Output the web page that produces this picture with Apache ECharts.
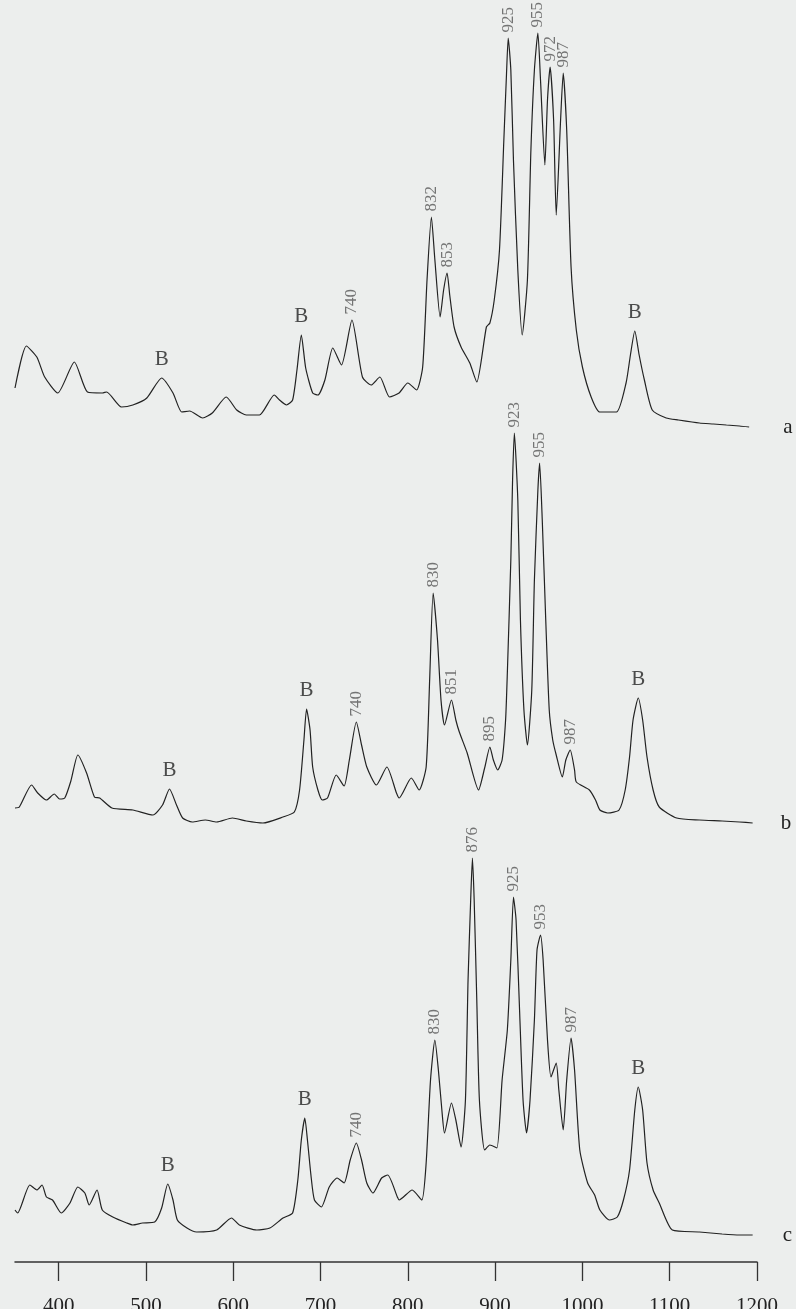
<!DOCTYPE html>
<html>
<head>
<meta charset="utf-8">
<script src="https://cdn.jsdelivr.net/npm/echarts@6/dist/echarts.min.js"></script>
<style>
  html, body { margin: 0; padding: 0; background: #eceeed; }
  #chart { width: 796px; height: 1309px; }
</style>
</head>
<body>
<div id="chart"></div>
<script>
// wavenumber (cm-1), relative intensity
var spectrumA = [[350,42],[363,84],[375,73],[384,53],[399,37],[418,68],[433,38],[450,37],[455,38],[472,23],[485,25],[501,32],[518,52],[531,37],[541,18],[550,19],[565,12],[576,17],[592,33],[604,20],[615,15],[630,15],[647,35],[653,30],[661,25],[668,30],[673,60],[678,95],[683,62],[691,37],[697,35],[705,50],[714,82],[724,65],[736,110],[748,53],[758,45],[768,53],[779,33],[790,37],[800,47],[810,40],[817,63],[822,150],[827,213],[831,170],[837,113],[841,140],[845,157],[848,135],[853,103],[861,83],[871,67],[879,48],[890,103],[894,107],[899,130],[905,180],[910,290],[913,355],[915,392],[918,360],[921,270],[926,160],[931,95],[937,150],[941,280],[945,360],[949,397],[952,350],[957,265],[960,330],[963,363],[967,310],[970,215],[975,310],[978,357],[982,300],[987,163],[993,100],[1000,63],[1010,33],[1020,18],[1039,18],[1050,47],[1055,75],[1060,99],[1065,75],[1071,50],[1080,20],[1096,12],[1110,10],[1134,7],[1150,6],[1165,5],[1180,4],[1191,3]];

var spectrumB = [[350,18],[355,19],[369,41],[376,33],[386,26],[395,32],[401,27],[407,28],[414,45],[422,71],[432,53],[441,29],[447,28],[461,18],[485,16],[508,11],[519,21],[527,37],[535,21],[542,8],[553,4],[568,6],[581,4],[599,8],[615,5],[634,3],[657,9],[670,14],[676,36],[681,86],[684,117],[688,96],[691,59],[697,36],[702,26],[708,28],[718,51],[727,40],[733,66],[741,104],[747,81],[753,59],[764,41],[776,59],[787,33],[790,28],[804,48],[813,36],[821,59],[825,146],[829,233],[834,186],[838,126],[842,101],[850,126],[855,106],[859,94],[868,73],[881,36],[888,58],[894,79],[898,66],[903,56],[908,66],[912,106],[914,153],[918,266],[920,346],[922,393],[926,326],[929,206],[933,116],[937,81],[942,136],[945,246],[949,336],[951,363],[954,306],[958,206],[962,116],[966,86],[970,71],[977,49],[981,66],[986,76],[991,56],[993,44],[1008,36],[1015,26],[1020,16],[1029,13],[1042,16],[1049,36],[1054,69],[1058,106],[1064,128],[1069,106],[1074,69],[1081,36],[1088,19],[1108,8],[1134,6],[1160,5],[1180,4],[1195,3]];

var spectrumC = [[350,30],[353,27],[367,55],[375,50],[381,55],[386,43],[393,40],[403,27],[413,37],[422,53],[430,47],[435,35],[444,50],[450,30],[462,23],[478,17],[485,15],[496,17],[510,18],[518,32],[525,56],[531,40],[536,20],[547,12],[558,8],[581,10],[598,22],[607,15],[627,10],[642,12],[657,22],[668,27],[674,60],[678,100],[682,122],[685,100],[689,65],[693,40],[701,33],[710,53],[719,62],[727,57],[734,80],[741,97],[747,80],[753,57],[760,47],[770,62],[777,65],[788,43],[790,40],[805,50],[816,40],[821,77],[826,160],[831,200],[835,170],[839,130],[842,107],[850,137],[855,120],[861,93],[866,140],[869,260],[872,340],[874,382],[876,340],[879,240],[882,140],[888,90],[894,95],[902,92],[908,160],[914,210],[918,280],[921,343],[924,320],[928,230],[932,140],[936,107],[940,140],[945,220],[948,290],[952,305],[955,280],[960,200],[964,163],[970,177],[973,150],[978,110],[982,160],[987,202],[991,170],[997,90],[1006,57],[1014,45],[1020,30],[1031,20],[1040,23],[1047,40],[1054,70],[1060,130],[1064,153],[1069,130],[1074,77],[1081,50],[1088,37],[1103,10],[1134,8],[1160,6],[1180,5],[1195,5]];

// peak annotations: [wavenumber, intensity, text]
var peaksA = [[736,110,'740'],[827,213,'832'],[845,157,'853'],[915,392,'925'],[949,397,'955'],[963,363,'972'],[978,357,'987']];
var peaksB = [[741,104,'740'],[829,233,'830'],[850,126,'851'],[894,79,'895'],[922,393,'923'],[951,363,'955'],[986,76,'987']];
var peaksC = [[741,97,'740'],[831,200,'830'],[874,382,'876'],[921,343,'925'],[952,305,'953'],[987,202,'987']];

// bands marked B
var bandsA = [[518,52],[678,95],[1060,99]];
var bandsB = [[527,37],[684,117],[1064,128]];
var bandsC = [[525,56],[682,122],[1064,153]];

var traceNames = ['a', 'b', 'c'];
var tickValues = [400, 500, 600, 700, 800, 900, 1000, 1100, 1200];

var serif = "'Liberation Serif', 'DejaVu Serif', serif";
var ink = '#222';

var chart = echarts.init(document.getElementById('chart'));

var gridTops = [0, 396, 810];
var grids = gridTops.map(function (t) {
    return { left: 15, right: 39, top: t, height: 430, outerBoundsMode: 'none', containLabel: false };
});

var xAxes = gridTops.map(function (t, i) {
    var last = i === 2;
    return {
        type: 'value', gridIndex: i, min: 350, max: 1200,
        show: last,
        offset: 22,
        splitLine: { show: false },
        axisLine: { show: last, onZero: false, lineStyle: { color: '#333', width: 1.5 } },
        axisTick: { show: last, customValues: tickValues, length: 19, lineStyle: { color: '#333', width: 1.3 } },
        axisLabel: {
            show: last, customValues: tickValues, margin: 34,
            formatter: function (v) { return String(v); },
            fontSize: 21, color: ink, fontFamily: serif
        }
    };
});

var yAxes = gridTops.map(function (t, i) {
    return { type: 'value', gridIndex: i, min: 0, max: 430, show: false };
});

var spectra = [spectrumA, spectrumB, spectrumC];
var peaks = [peaksA, peaksB, peaksC];
var bands = [bandsA, bandsB, bandsC];
var endGap = [34, 28, 30];

var series = [];
spectra.forEach(function (data, i) {
    series.push({
        type: 'line', xAxisIndex: i, yAxisIndex: i,
        data: data, showSymbol: false, smooth: 0.2,
        lineStyle: { color: ink, width: 1.2 },
        endLabel: {
            show: true, formatter: traceNames[i], distance: endGap[i],
            fontSize: 21, color: ink, fontFamily: serif
        }
    });
    series.push({
        type: 'scatter', xAxisIndex: i, yAxisIndex: i,
        data: peaks[i], symbolSize: 1,
        itemStyle: { color: 'rgba(0,0,0,0)' },
        label: {
            show: true, position: 'top', distance: 5, rotate: 90,
            align: 'left', verticalAlign: 'middle',
            formatter: function (p) { return p.value[2]; },
            fontSize: 17, color: '#555', fontFamily: serif
        }
    });
    series.push({
        type: 'scatter', xAxisIndex: i, yAxisIndex: i,
        data: bands[i], symbolSize: 1,
        itemStyle: { color: 'rgba(0,0,0,0)' },
        label: {
            show: true, position: 'top', distance: 8,
            formatter: 'B', fontSize: 21, color: ink, fontFamily: serif
        }
    });
});

chart.setOption({
    backgroundColor: '#eceeed',
    animation: false,
    grid: grids,
    xAxis: xAxes,
    yAxis: yAxes,
    series: series
});
</script>
</body>
</html>
